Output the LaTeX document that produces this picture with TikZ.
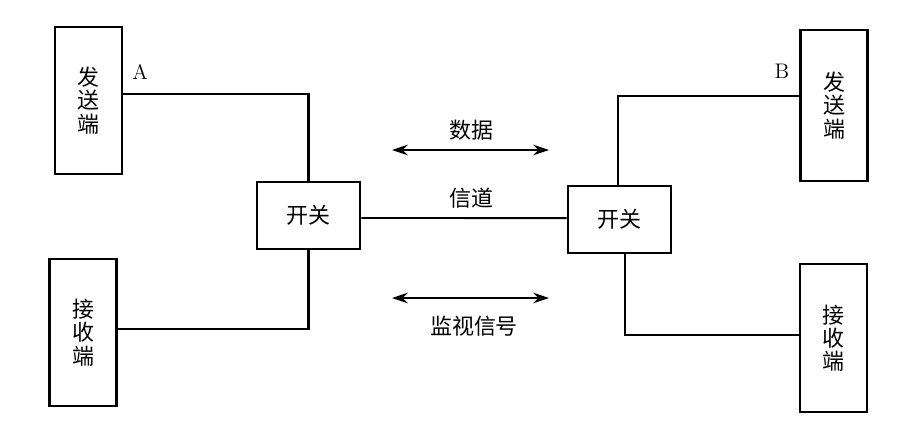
\documentclass[tikz,border=0pt]{standalone}
\usepackage{fontspec}
\newfontfamily\cjk{Noto Sans CJK SC}
\usepackage{tikz}
\usetikzlibrary{arrows.meta}

\begin{document}
\begin{tikzpicture}[x=0.02cm,y=-0.02cm]
\tikzstyle{every node}=[font=\cjk\fontsize{12.5}{13.2}\selectfont]
\tikzstyle{endbox}=[draw,line width=1.6pt,minimum width=67*0.02cm,minimum height=147*0.02cm,align=center,inner sep=0pt]
\tikzstyle{switchbox}=[draw,line width=1.6pt,minimum width=103*0.02cm,minimum height=67*0.02cm,inner sep=0pt]
\tikzstyle{wire}=[line width=1.5pt]
\tikzstyle{sig}=[line width=1.1pt,arrows={Stealth[length=9pt,width=6pt]-Stealth[length=9pt,width=6pt]}]
\useasboundingbox (0,0) rectangle (914,444);
\node[endbox] (sendA) at (88.5,100.5) {发\\送\\端};
\node[endbox] (recvA) at (83,332.5) {接\\收\\端};
\node[switchbox] (swA) at (308.5,215.5) {开关};
\node[switchbox] (swB) at (619.5,219.5) {开关};
\node[endbox,minimum height=151*0.02cm] (sendB) at (834,105.5) {发\\送\\端};
\node[endbox,minimum height=148*0.02cm] (recvB) at (833.5,338) {接\\收\\端};
\node[font=\fontsize{12}{14}\selectfont] (labA) at (140,72) {A};
\node[font=\fontsize{12}{14}\selectfont] (labB) at (782,71) {B};
\node (data) at (471,130) {数据};
\node (chan) at (471,198) {信道};
\node (mon) at (474,326) {监视信号};
\coordinate (dataL) at (392,150);
\coordinate (dataR) at (549,150);
\coordinate (monL) at (392,298);
\coordinate (monR) at (549,298);
% wires
\draw[wire] ([yshift=3.7pt]sendA.east) -| (swA.north);
\draw[wire] ([yshift=2pt]recvA.east) -| (swA.south);
\draw[wire,line width=1.1pt] ([yshift=-1.4pt]swA.east) -- ([yshift=0.8pt]swB.west);
\draw[wire] ([yshift=5.4pt]sendB.west) -| ([xshift=-0.8pt]swB.north);
\draw[wire] ([xshift=3.1pt]swB.south) |- ([yshift=1.7pt]recvB.west);
% signals
\draw[sig] (dataL) -- (dataR);
\draw[sig] (monL) -- (monR);
\end{tikzpicture}
\end{document}
